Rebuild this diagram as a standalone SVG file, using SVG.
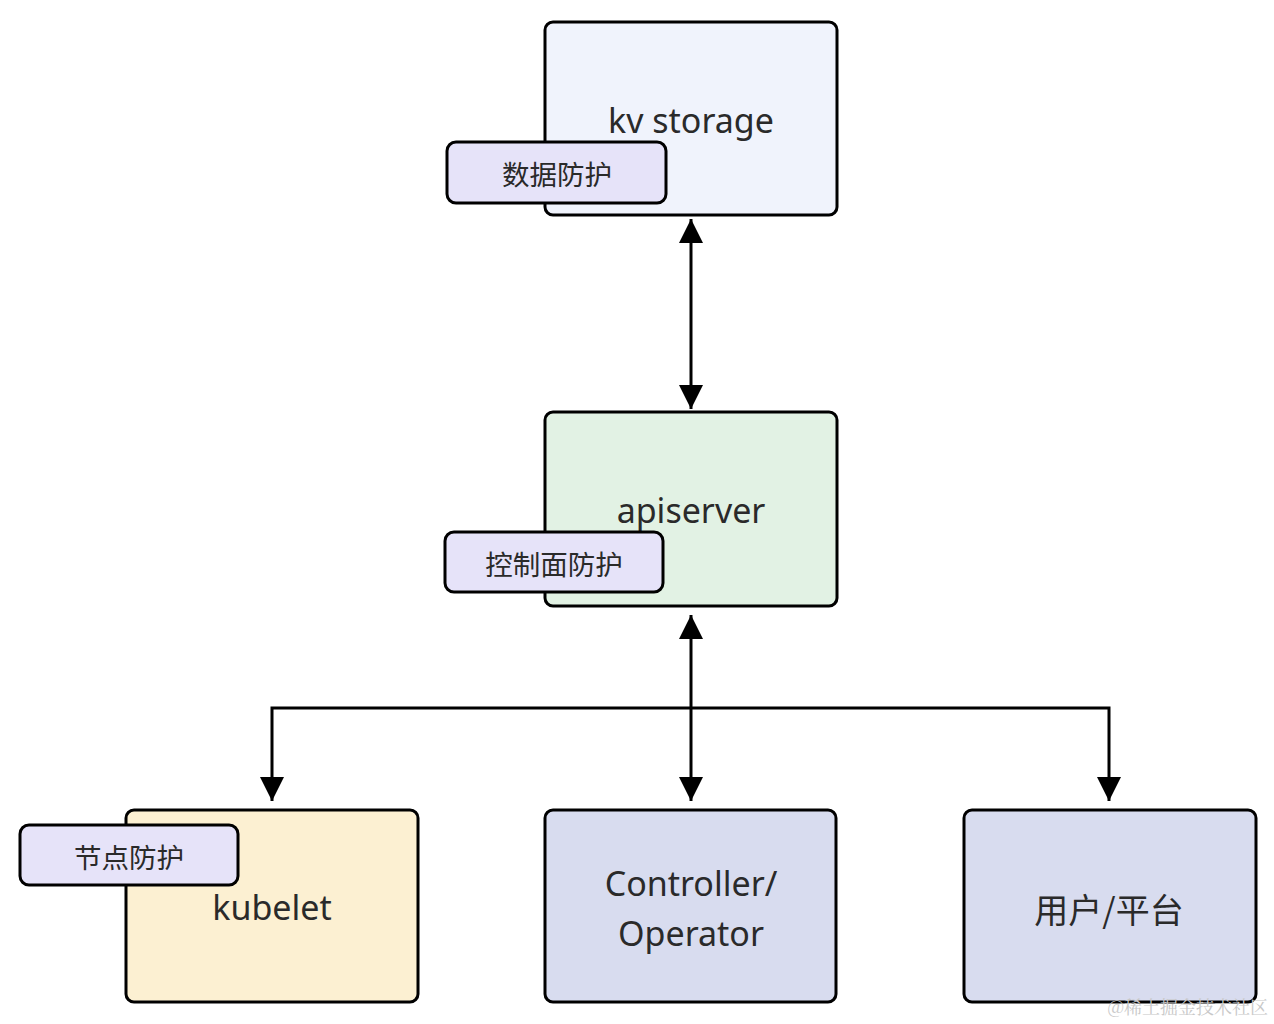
<svg xmlns="http://www.w3.org/2000/svg" width="1274" height="1024" viewBox="0 0 1274 1024">
<style>
.box{stroke:#000;stroke-width:3}
.lbl{font-family:"Noto Sans","Open Sans","Noto Sans CJK SC",sans-serif;font-size:34px;fill:#2a2a2a;text-anchor:middle;dominant-baseline:central}
.tag{font-family:"Noto Sans CJK SC",sans-serif;font-size:27.5px;fill:#2a2a2a;text-anchor:middle;dominant-baseline:central}
.tagbox{fill:#e6e3f9;stroke:#000;stroke-width:3}
.edge{fill:none;stroke:#000;stroke-width:3}
</style>
<defs>
<marker id="ah" viewBox="0 0 10 10" refX="10" refY="5" markerWidth="8" markerHeight="8" orient="auto-start-reverse" markerUnits="strokeWidth">
<path d="M0,0 L10,5 L0,10 z" fill="#000"/>
</marker>
</defs>
<rect width="1274" height="1024" fill="#fff"/>
<g id="connectors">
<path class="edge" d="M691,219 L691,409" marker-start="url(#ah)" marker-end="url(#ah)"/>
<path class="edge" d="M691,615 L691,801" marker-start="url(#ah)" marker-end="url(#ah)"/>
<path class="edge" d="M691,708 L272,708 L272,801" marker-end="url(#ah)"/>
<path class="edge" d="M691,708 L1109,708 L1109,801" marker-end="url(#ah)"/>
</g>
<g id="kv">
<rect class="box" x="545" y="22" width="292" height="193" rx="8" fill="#f0f3fc"/>
<text class="lbl" x="691" y="120">kv storage</text>
</g>
<g id="tag-data">
<rect class="tagbox" x="447" y="142" width="219" height="61" rx="9"/>
<text class="tag" x="557" y="173">数据防护</text>
</g>
<g id="apiserver">
<rect class="box" x="545" y="412" width="292" height="194" rx="8" fill="#e2f2e4"/>
<text class="lbl" x="691" y="510">apiserver</text>
</g>
<g id="tag-control">
<rect class="tagbox" x="445" y="532" width="218" height="60" rx="9"/>
<text class="tag" x="554" y="563">控制面防护</text>
</g>
<g id="kubelet">
<rect class="box" x="126" y="810" width="292" height="192" rx="8" fill="#fcf0d2"/>
<text class="lbl" x="272" y="907">kubelet</text>
</g>
<g id="tag-node">
<rect class="tagbox" x="20" y="825" width="218" height="60" rx="9"/>
<text class="tag" x="129" y="856">节点防护</text>
</g>
<g id="controller">
<rect class="box" x="545" y="810" width="291" height="192" rx="8" fill="#d8dcef"/>
<text class="lbl" x="691" y="883">Controller/</text>
<text class="lbl" x="691" y="933">Operator</text>
</g>
<g id="user">
<rect class="box" x="964" y="810" width="292" height="192" rx="8" fill="#d8dcef"/>
<text class="lbl" x="1109" y="908" style="font-family:'Noto Sans CJK SC',sans-serif">用户/平台</text>
</g>
<text x="1268" y="1014" text-anchor="end" style="font-family:'Noto Serif CJK SC','Noto Sans CJK SC',serif;font-size:18px;fill:#c8c8c8">@稀土掘金技术社区</text>
</svg>
